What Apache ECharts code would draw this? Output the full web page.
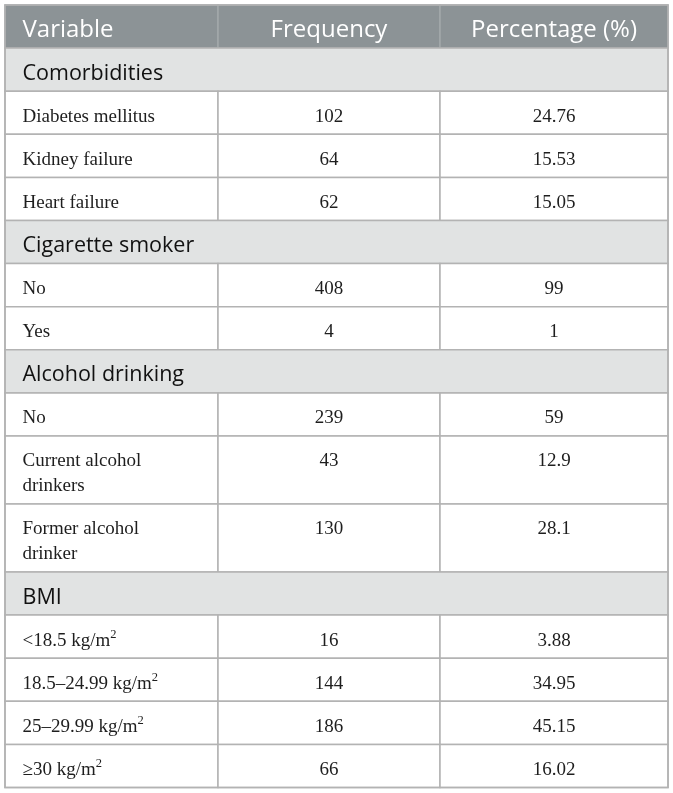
<!DOCTYPE html>
<html>
<head>
<meta charset="utf-8">
<script src="https://cdn.jsdelivr.net/npm/echarts@6/dist/echarts.min.js"></script>
<style>html,body{margin:0;padding:0;background:#fff;}#c{width:673px;height:793px;}</style>
</head>
<body>
<div id="c"></div>
<script>
// ---- data ----
const headers = ['Variable', 'Frequency', 'Percentage (%)'];
const sections = ['Comorbidities', 'Cigarette smoker', 'Alcohol drinking', 'BMI'];
const comorbidityVars = ['Diabetes mellitus', 'Kidney failure', 'Heart failure'];
const comorbidityFreq = [102, 64, 62];
const comorbidityPct = ['24.76', '15.53', '15.05'];
const smokerVars = ['No', 'Yes'];
const smokerFreq = [408, 4];
const smokerPct = ['99', '1'];
const alcoholVars = ['No', 'Current alcohol\ndrinkers', 'Former alcohol\ndrinker'];
const alcoholFreq = [239, 43, 130];
const alcoholPct = ['59', '12.9', '28.1'];
const bmiVars = ['<18.5 kg/m²', '18.5–24.99 kg/m²', '25–29.99 kg/m²', '≥30 kg/m²'];
const bmiFreq = [16, 144, 186, 66];
const bmiPct = ['3.88', '34.95', '45.15', '16.02'];

// ---- layout ----
const TABLE_W = 663;
const colEdges = [0, 213, 435, 663];
const ROW_H = 43.1, EXTRA_LINE_H = 24.9;

const groups = [
  [comorbidityVars, comorbidityFreq, comorbidityPct],
  [smokerVars, smokerFreq, smokerPct],
  [alcoholVars, alcoholFreq, alcoholPct],
  [bmiVars, bmiFreq, bmiPct]
];

const cells = [];
let y = 0;
headers.forEach((h, c) => cells.push({kind: 'header', x0: colEdges[c], x1: colEdges[c + 1], y0: y, y1: y + ROW_H, text: h, align: c === 0 ? 'left' : 'center'}));
y += ROW_H;
sections.forEach((s, si) => {
  cells.push({kind: 'section', x0: 0, x1: TABLE_W, y0: y, y1: y + ROW_H, text: s, align: 'left'});
  y += ROW_H;
  const [vars, freq, pct] = groups[si];
  vars.forEach((v, i) => {
    const lines = v.split('\n').length;
    const h = ROW_H + (lines - 1) * EXTRA_LINE_H;
    [v, String(freq[i]), pct[i]].forEach((t, c) => cells.push({kind: 'data', x0: colEdges[c], x1: colEdges[c + 1], y0: y, y1: y + h, text: t, align: c === 0 ? 'left' : 'center'}));
    y += h;
  });
});
const TOTAL_H = y;
cells.push({kind: 'frame', x0: 0, x1: TABLE_W, y0: 0, y1: TOTAL_H, text: ''});

const styles = {
  header: {fill: '#8c9396', stroke: '#a3a9ab', font: '24px "Open Sans"', color: '#ffffff', dy: 12.5, lh: 24.9},
  section: {fill: '#e1e3e3', stroke: '#b3b3b3', font: '21.5px "Open Sans"', color: '#111111', dy: 13, lh: 24.9},
  data: {fill: '#ffffff', stroke: '#b3b3b3', font: '19px "Liberation Serif"', color: '#1e1e1e', dy: 13.2, lh: 24.5},
  frame: {fill: 'none', stroke: '#b3b3b3'}
};

function textStyle(cell, st, x, y) {
  const base = {x: x, y: y, fill: st.color, align: cell.align, verticalAlign: 'top'};
  if (cell.text.indexOf('²') < 0) {
    return Object.assign(base, {text: cell.text, font: st.font, lineHeight: st.lh});
  }
  const parts = cell.text.split('²');
  return Object.assign(base, {
    text: '{n|' + parts[0] + '}{s|2}' + (parts[1] ? '{n|' + parts[1] + '}' : ''),
    rich: {
      n: {fontFamily: 'Liberation Serif', fontSize: 19, lineHeight: st.lh, fill: st.color},
      s: {fontFamily: 'Liberation Serif', fontSize: 12.5, lineHeight: 19, verticalAlign: 'top', fill: st.color}
    }
  });
}

const chart = echarts.init(document.getElementById('c'), null, {renderer: 'canvas'});
chart.setOption({
  animation: false,
  grid: {left: 5, top: 5, width: TABLE_W, height: TOTAL_H},
  xAxis: {type: 'value', min: 0, max: TABLE_W, show: false},
  yAxis: {type: 'value', min: 0, max: TOTAL_H, inverse: true, show: false},
  series: [{
    type: 'custom',
    coordinateSystem: 'cartesian2d',
    data: cells.map((c, i) => [i]),
    renderItem: function (params, api) {
      const cell = cells[api.value(0)];
      const st = styles[cell.kind];
      const p0 = api.coord([cell.x0, cell.y0]);
      const p1 = api.coord([cell.x1, cell.y1]);
      const children = [{
        type: 'rect',
        shape: {x: p0[0], y: p0[1], width: p1[0] - p0[0], height: p1[1] - p0[1]},
        style: {fill: st.fill, stroke: st.stroke, lineWidth: 1.5}
      }];
      if (cell.text) {
        const tx = cell.align === 'left' ? p0[0] + 17.5 : (p0[0] + p1[0]) / 2;
        children.push({type: 'text', style: textStyle(cell, st, tx, p0[1] + st.dy)});
      }
      return {type: 'group', children: children};
    }
  }]
});
</script>
</body>
</html>
